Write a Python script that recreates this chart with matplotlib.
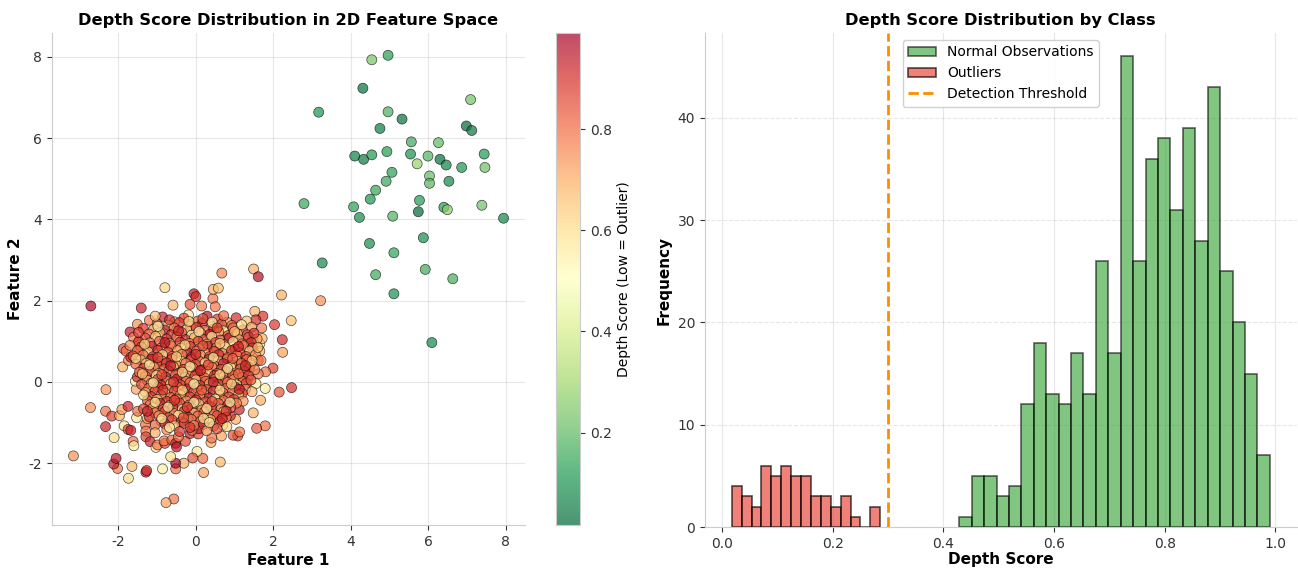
import numpy as np
import matplotlib
matplotlib.use("Agg")
import matplotlib.pyplot as plt

plt.rcParams['font.family'] = ['DejaVu Sans']
plt.rcParams['axes.unicode_minus'] = False

# --- data ---
# outliers: (feature1, feature2, depth score)
outlier_pts = [
    (4.96, 8.04, 0.131), (4.54, 7.93, 0.241), (4.31, 7.23, 0.040), (7.09, 6.95, 0.229),
    (3.17, 6.64, 0.105), (4.96, 6.65, 0.174), (5.32, 6.47, 0.033), (4.75, 6.24, 0.058),
    (6.98, 6.30, 0.024), (7.12, 6.19, 0.045), (5.56, 5.91, 0.155), (6.26, 5.89, 0.200),
    (4.10, 5.56, 0.066), (4.33, 5.48, 0.050), (4.54, 5.59, 0.115), (4.93, 5.67, 0.127),
    (5.54, 5.61, 0.099), (5.99, 5.56, 0.188), (6.30, 5.48, 0.029), (5.71, 5.37, 0.286),
    (6.46, 5.34, 0.073), (6.86, 5.28, 0.109), (7.44, 5.61, 0.120), (7.46, 5.28, 0.219),
    (5.06, 5.16, 0.134), (6.03, 5.07, 0.208), (6.03, 4.89, 0.193), (4.91, 4.94, 0.152),
    (6.53, 4.94, 0.076), (4.64, 4.72, 0.145), (4.50, 4.50, 0.112), (5.77, 4.47, 0.118),
    (5.74, 4.19, 0.0175), (6.40, 4.30, 0.123), (6.49, 4.24, 0.274), (7.38, 4.35, 0.224),
    (2.79, 4.39, 0.149), (4.07, 4.31, 0.137), (4.22, 4.05, 0.092), (5.08, 4.08, 0.182),
    (7.94, 4.03, 0.079), (4.48, 3.41, 0.088), (5.87, 3.55, 0.095), (5.11, 3.18, 0.140),
    (3.26, 2.93, 0.082), (4.64, 2.64, 0.158), (5.92, 2.77, 0.164), (6.63, 2.54, 0.169),
    (5.11, 2.17, 0.102), (6.09, 0.97, 0.085),
]

# normal observations: (feature1, feature2, depth score)
normal_pts = [
    # outer ring of the cluster
    (-2.71, 1.87, 0.97), (-1.41, 1.82, 0.92), (-0.80, 2.32, 0.62), (-0.59, 1.89, 0.68),
    (-0.19, 1.65, 0.58), (-0.05, 2.17, 0.93), (0.00, 2.10, 0.90), (-0.15, 1.91, 0.84),
    (0.15, 1.87, 0.77), (0.44, 2.05, 0.78), (0.45, 2.28, 0.70), (0.58, 2.31, 0.66),
    (0.50, 1.85, 0.78), (0.67, 2.68, 0.76), (1.49, 2.78, 0.70), (1.61, 2.59, 0.96),
    (2.21, 2.14, 0.70), (2.46, 1.51, 0.66), (2.23, 1.04, 0.91), (2.24, 0.73, 0.72),
    (1.99, 0.34, 0.86), (2.47, -0.14, 0.90), (2.15, -0.25, 0.84), (1.79, -0.16, 0.56),
    (1.67, -0.45, 0.70), (1.79, -1.08, 0.79), (1.57, -1.14, 0.83), (2.03, 1.41, 0.88),
    (1.73, 1.62, 0.89), (1.52, 1.74, 0.69), (1.55, 1.53, 0.90), (1.70, 1.33, 0.78),
    (1.49, 0.97, 0.70), (1.65, 0.94, 0.57), (1.71, 1.07, 0.69), (1.65, 0.76, 0.70),
    (1.61, 0.53, 0.85), (1.46, 0.60, 0.78), (1.80, 0.25, 0.79), (1.61, 0.20, 0.77),
    (1.55, -0.04, 0.57), (1.48, -0.76, 0.69), (1.12, -0.68, 0.92), (1.08, -1.33, 0.85),
    (0.96, -1.31, 0.84), (0.66, -1.33, 0.71), (1.13, -1.23, 0.78), (1.03, -0.92, 0.70),
    (0.89, -0.83, 0.91), (0.69, -1.06, 0.58), (0.39, -1.49, 0.70), (0.41, -1.38, 0.78),
    (0.63, -1.97, 0.68), (0.20, -2.23, 0.72), (0.18, -1.88, 0.80), (0.03, -1.71, 0.57),
    (-0.08, -1.87, 0.84), (-0.31, -2.00, 0.70), (-0.52, -2.14, 0.79), (-0.52, -2.00, 0.99),
    (-0.65, -1.84, 0.60), (-0.86, -2.14, 0.56), (-0.57, -2.88, 0.78), (-0.77, -2.97, 0.72),
    (-1.29, -2.22, 0.94), (-1.27, -2.18, 0.90), (-1.74, -2.37, 0.60), (-1.65, -2.08, 0.68),
    (-2.02, -2.13, 0.78), (-2.12, -2.02, 0.93), (-2.06, -1.88, 0.95), (-3.16, -1.82, 0.74),
    (-2.11, -1.37, 0.60), (-2.33, -1.10, 0.92), (-2.72, -0.63, 0.74), (-2.33, -0.72, 0.79),
    (-2.17, -0.84, 0.87), (-2.32, -0.19, 0.73), (-1.89, 0.37, 0.69), (-1.87, 0.82, 0.86),
    (-1.80, 0.76, 0.80), (-1.74, 0.53, 0.78), (-1.70, 1.23, 0.93), (-1.51, 1.42, 0.74),
    (-1.48, 0.98, 0.72), (-1.45, 0.78, 0.84), (-1.68, 0.61, 0.92), (-1.97, -0.83, 0.70),
    (-1.91, -0.68, 0.72), (-1.75, -0.60, 0.92), (-1.85, -1.08, 0.58), (-1.75, -1.17, 0.86),
    (-1.68, -1.19, 0.93), (-1.62, -1.46, 0.80), (-1.60, -1.57, 0.56), (-1.53, -0.88, 0.58),
    (-1.50, -0.72, 0.79), (-1.54, -0.18, 0.71), (-1.56, 0.02, 0.57), (-1.43, 0.24, 0.79),
    (-1.51, 0.12, 0.92), (-1.30, -1.05, 0.80), (-1.29, -1.21, 0.78), (-1.25, -0.90, 0.70),
    (-1.29, -1.35, 0.86), (-1.18, -1.47, 0.92), (-1.03, -1.61, 0.58), (-0.99, -1.55, 0.79),
    (-0.80, -1.51, 0.85), (-0.82, -1.45, 0.78), (-0.62, -1.43, 0.80), (-0.52, -1.51, 0.93),
    (-0.50, -1.60, 0.95), (-0.27, -1.46, 0.85), (-0.45, -1.35, 0.78), (-0.15, -1.27, 0.92),
    (0.06, -1.28, 0.86), (0.08, -1.15, 0.93), (-0.10, -1.19, 0.79), (3.22, 2.00, 0.74),
    # dense core
    (-1.20, 1.52, 0.78), (-0.86, 1.60, 0.92), (-0.55, 1.48, 0.70), (-0.31, 1.57, 0.86),
    (0.05, 1.50, 0.81), (0.29, 1.62, 0.95), (0.56, 1.55, 0.88), (0.81, 1.47, 0.74),
    (1.04, 1.58, 0.90), (1.31, 1.50, 0.66),
    (-1.00, 1.43, 0.83), (-0.71, 1.40, 0.61), (-0.42, 1.46, 0.89), (-0.14, 1.38, 0.76),
    (0.16, 1.44, 0.93), (0.41, 1.36, 0.72), (0.66, 1.42, 0.84), (0.93, 1.39, 0.79),
    (-1.36, 1.32, 0.88), (-1.09, 1.30, 0.74), (-0.80, 1.28, 0.95), (-0.56, 1.33, 0.80),
    (-0.24, 1.29, 0.68), (0.01, 1.34, 0.87), (0.23, 1.27, 0.77), (0.46, 1.31, 0.91),
    (0.71, 1.26, 0.63), (0.96, 1.33, 0.82), (1.21, 1.28, 0.89), (1.44, 1.35, 0.73),
    (-1.21, 1.18, 0.81), (-0.93, 1.21, 0.70), (-0.64, 1.16, 0.90), (-0.37, 1.22, 0.84),
    (-0.11, 1.15, 0.57), (0.13, 1.20, 0.79), (0.36, 1.17, 0.94), (0.59, 1.23, 0.75),
    (0.83, 1.14, 0.86), (1.07, 1.19, 0.69), (1.33, 1.16, 0.83),
    (-1.61, 1.10, 0.77), (-1.31, 1.08, 0.85), (-1.04, 1.12, 0.66), (-0.76, 1.06, 0.88),
    (-0.49, 1.11, 0.79), (-0.27, 1.04, 0.92), (-0.04, 1.09, 0.72), (0.19, 1.05, 0.85),
    (0.41, 1.12, 0.60), (0.63, 1.03, 0.81), (0.86, 1.08, 0.93), (1.11, 1.04, 0.76),
    (1.36, 1.10, 0.87), (1.58, 1.06, 0.71),
    (-1.48, 0.99, 0.89), (-1.19, 0.96, 0.73), (-0.94, 1.00, 0.82), (-0.67, 0.94, 0.64),
    (-0.41, 0.98, 0.91), (-0.17, 0.95, 0.78), (0.06, 1.00, 0.86), (0.29, 0.93, 0.70),
    (0.51, 0.97, 0.88), (0.73, 0.92, 0.80), (0.96, 0.99, 0.62), (1.19, 0.94, 0.84),
    (1.43, 0.97, 0.90),
    (-1.70, 0.90, 0.75), (-1.41, 0.86, 0.87), (-1.14, 0.88, 0.94), (-0.89, 0.84, 0.77),
    (-0.64, 0.89, 0.83), (-0.39, 0.83, 0.68), (-0.14, 0.87, 0.89), (0.09, 0.82, 0.74),
    (0.31, 0.88, 0.95), (0.53, 0.84, 0.79), (0.76, 0.86, 0.58), (1.01, 0.81, 0.86),
    (1.23, 0.89, 0.78), (1.46, 0.84, 0.92),
    (-1.51, 0.77, 0.80), (-1.23, 0.74, 0.66), (-0.98, 0.78, 0.91), (-0.72, 0.73, 0.85),
    (-0.47, 0.77, 0.72), (-0.22, 0.72, 0.93), (0.02, 0.76, 0.81), (0.24, 0.71, 0.69),
    (0.47, 0.75, 0.87), (0.69, 0.70, 0.76), (0.92, 0.77, 0.90), (1.14, 0.72, 0.83),
    (1.39, 0.76, 0.64),
    (-1.62, 0.64, 0.86), (-1.36, 0.66, 0.78), (-1.11, 0.62, 0.89), (-0.86, 0.67, 0.61),
    (-0.61, 0.63, 0.82), (-0.36, 0.68, 0.77), (-0.11, 0.61, 0.94), (0.12, 0.66, 0.75),
    (0.35, 0.62, 0.84), (0.59, 0.67, 0.91), (0.82, 0.60, 0.70), (1.06, 0.65, 0.80),
    (1.29, 0.63, 0.88), (1.54, 0.67, 0.74),
    (-1.42, 0.54, 0.72), (-1.15, 0.56, 0.93), (-0.88, 0.52, 0.79), (-0.62, 0.57, 0.87),
    (-0.38, 0.51, 0.66), (-0.12, 0.55, 0.84), (0.10, 0.50, 0.78), (0.34, 0.56, 0.91),
    (0.58, 0.52, 0.73), (0.81, 0.57, 0.85), (1.07, 0.51, 0.60), (1.31, 0.55, 0.82),
    (1.68, 0.53, 0.77),
    (-1.55, 0.44, 0.81), (-1.28, 0.46, 0.68), (-1.01, 0.42, 0.86), (-0.76, 0.47, 0.92),
    (-0.51, 0.41, 0.75), (-0.26, 0.46, 0.80), (-0.01, 0.43, 0.88), (0.24, 0.47, 0.64),
    (0.47, 0.40, 0.83), (0.71, 0.45, 0.94), (0.94, 0.41, 0.78), (1.17, 0.46, 0.87),
    (1.41, 0.42, 0.71),
    (-1.35, 0.34, 0.90), (-1.08, 0.36, 0.76), (-0.82, 0.32, 0.83), (-0.58, 0.37, 0.69),
    (-0.32, 0.31, 0.87), (-0.08, 0.35, 0.79), (0.18, 0.30, 0.93), (0.42, 0.36, 0.74),
    (0.65, 0.31, 0.85), (0.90, 0.37, 0.62), (1.15, 0.32, 0.81), (1.38, 0.35, 0.89),
    (1.52, 0.30, 0.76),
    (-1.46, 0.24, 0.77), (-1.20, 0.26, 0.88), (-0.95, 0.21, 0.72), (-0.70, 0.27, 0.84),
    (-0.44, 0.22, 0.95), (-0.20, 0.26, 0.78), (0.05, 0.20, 0.86), (0.30, 0.25, 0.67),
    (0.55, 0.21, 0.82), (0.79, 0.27, 0.90), (1.02, 0.22, 0.75), (1.25, 0.26, 0.83),
    (-1.30, 0.14, 0.83), (-1.02, 0.16, 0.59), (-0.78, 0.12, 0.90), (-0.52, 0.17, 0.80),
    (-0.28, 0.11, 0.73), (-0.02, 0.15, 0.87), (0.22, 0.10, 0.79), (0.48, 0.16, 0.92),
    (0.72, 0.12, 0.70), (0.95, 0.17, 0.85), (1.20, 0.11, 0.78), (1.36, 0.15, 0.88),
    (-1.25, 0.04, 0.71), (-0.99, 0.06, 0.86), (-0.75, 0.02, 0.79), (-0.49, 0.07, 0.93),
    (-0.25, 0.01, 0.82), (0.00, 0.05, 0.65), (0.25, 0.02, 0.84), (0.50, 0.07, 0.77),
    (0.75, 0.03, 0.89), (0.98, 0.06, 0.74), (1.22, 0.01, 0.81),
    (-1.40, -0.06, 0.85), (-1.15, -0.03, 0.77), (-0.90, -0.08, 0.92), (-0.65, -0.04, 0.68),
    (-0.40, -0.07, 0.86), (-0.15, -0.02, 0.80), (0.10, -0.08, 0.90), (0.35, -0.04, 0.73),
    (0.58, -0.06, 0.84), (0.82, -0.01, 0.79), (1.05, -0.07, 0.61), (1.30, -0.03, 0.87),
    (-1.22, -0.16, 0.80), (-0.98, -0.13, 0.89), (-0.72, -0.18, 0.75), (-0.48, -0.12, 0.83),
    (-0.22, -0.17, 0.94), (0.02, -0.14, 0.78), (0.28, -0.19, 0.86), (0.52, -0.12, 0.70),
    (0.78, -0.16, 0.82), (1.02, -0.13, 0.91), (1.28, -0.18, 0.76),
    (-1.30, -0.26, 0.74), (-1.05, -0.23, 0.84), (-0.80, -0.28, 0.62), (-0.55, -0.22, 0.88),
    (-0.30, -0.27, 0.79), (-0.05, -0.24, 0.85), (0.20, -0.29, 0.72), (0.45, -0.22, 0.92),
    (0.70, -0.27, 0.81), (0.95, -0.23, 0.77), (1.20, -0.28, 0.87), (1.45, -0.24, 0.69),
    (-1.15, -0.36, 0.91), (-0.90, -0.33, 0.78), (-0.65, -0.38, 0.83), (-0.40, -0.32, 0.71),
    (-0.15, -0.37, 0.87), (0.10, -0.34, 0.80), (0.35, -0.39, 0.93), (0.60, -0.33, 0.76),
    (0.85, -0.37, 0.85), (1.10, -0.32, 0.66),
    (-1.25, -0.46, 0.82), (-1.00, -0.43, 0.70), (-0.75, -0.48, 0.89), (-0.50, -0.42, 0.81),
    (-0.25, -0.47, 0.75), (0.00, -0.44, 0.92), (0.25, -0.49, 0.84), (0.50, -0.42, 0.58),
    (0.72, -0.46, 0.79), (0.98, -0.43, 0.88), (1.22, -0.47, 0.73),
    (-1.18, -0.56, 0.78), (-0.92, -0.53, 0.93), (-0.68, -0.58, 0.74), (-0.42, -0.52, 0.86),
    (-0.18, -0.57, 0.80), (0.08, -0.54, 0.69), (0.32, -0.59, 0.87), (0.58, -0.53, 0.82),
    (0.82, -0.57, 0.94), (1.05, -0.52, 0.77),
    (-1.35, -0.66, 0.86), (-1.10, -0.63, 0.72), (-0.85, -0.68, 0.84), (-0.60, -0.62, 0.91),
    (-0.35, -0.67, 0.63), (-0.10, -0.64, 0.83), (0.15, -0.69, 0.78), (0.40, -0.62, 0.89),
    (0.65, -0.67, 0.74), (0.90, -0.63, 0.85),
    (-1.05, -0.76, 0.80), (-0.80, -0.73, 0.88), (-0.55, -0.78, 0.76), (-0.30, -0.72, 0.92),
    (-0.05, -0.77, 0.71), (0.22, -0.74, 0.85), (0.48, -0.79, 0.79), (0.72, -0.73, 0.66),
    (-1.20, -0.86, 0.89), (-0.95, -0.83, 0.77), (-0.70, -0.88, 0.84), (-0.45, -0.82, 0.60),
    (-0.20, -0.87, 0.91), (0.05, -0.84, 0.82), (0.30, -0.89, 0.75), (0.55, -0.83, 0.87),
    (0.78, -0.87, 0.79),
    (-0.90, -0.96, 0.73), (-0.62, -0.93, 0.86), (-0.38, -0.98, 0.94), (-0.12, -0.92, 0.78),
    (0.12, -0.97, 0.83), (0.38, -0.93, 0.70), (0.62, -0.98, 0.88),
    (-1.05, -1.06, 0.81), (-0.80, -1.03, 0.92), (-0.55, -1.08, 0.67), (-0.30, -1.02, 0.85),
    (-0.05, -1.07, 0.77), (0.20, -1.04, 0.90), (0.45, -1.09, 0.82),
    (-0.75, -1.18, 0.76), (-0.42, -1.22, 0.88), (0.28, -1.20, 0.74), (0.55, -1.15, 0.84),
    (-1.05, -1.25, 0.70), (0.80, -1.10, 0.62),
    # points sitting between the others in the core
    (-1.05, 1.62, 0.66), (-0.68, 1.53, 0.91), (-0.18, 1.49, 0.63), (0.18, 1.56, 0.84),
    (0.42, 1.47, 0.57), (0.72, 1.63, 0.80), (1.18, 1.41, 0.59),
    (-1.48, 1.22, 0.88), (-0.98, 1.37, 0.56), (-0.45, 1.26, 0.93), (0.08, 1.24, 0.55),
    (0.55, 1.33, 0.86), (1.00, 1.24, 0.67), (1.50, 1.20, 0.90),
    (-1.32, 0.93, 0.62), (-0.80, 0.97, 0.95), (-0.28, 0.91, 0.60), (0.18, 0.89, 0.83),
    (0.62, 0.95, 0.64), (1.10, 0.87, 0.92), (1.60, 0.85, 0.66),
    (-1.55, 0.58, 0.60), (-0.98, 0.60, 0.87), (-0.50, 0.62, 0.62), (0.00, 0.68, 0.90),
    (0.45, 0.60, 0.56), (0.95, 0.58, 0.83), (1.45, 0.52, 0.63),
    (-1.20, 0.42, 0.57), (-0.65, 0.40, 0.94), (-0.15, 0.38, 0.54), (0.32, 0.42, 0.85),
    (0.82, 0.33, 0.56), (1.28, 0.40, 0.91),
    (-1.38, 0.20, 0.64), (-0.88, 0.18, 0.86), (-0.35, 0.24, 0.61), (0.12, 0.28, 0.92),
    (0.62, 0.18, 0.60), (1.10, 0.20, 0.81),
    (-1.10, -0.02, 0.56), (-0.58, 0.00, 0.89), (-0.05, -0.05, 0.55), (0.45, 0.00, 0.94),
    (0.92, -0.05, 0.62), (1.42, 0.05, 0.84),
    (-1.35, -0.32, 0.60), (-0.85, -0.20, 0.90), (-0.35, -0.20, 0.62), (0.15, -0.20, 0.83),
    (0.62, -0.20, 0.58), (1.12, -0.18, 0.93),
    (-1.05, -0.50, 0.58), (-0.55, -0.45, 0.88), (-0.05, -0.50, 0.56), (0.42, -0.48, 0.85),
    (0.88, -0.50, 0.55),
    (-1.25, -0.72, 0.92), (-0.72, -0.62, 0.57), (-0.22, -0.62, 0.87), (0.28, -0.65, 0.55),
    (0.78, -0.72, 0.90),
    (-0.88, -0.90, 0.56), (-0.32, -0.88, 0.83), (0.20, -0.90, 0.58), (0.68, -0.90, 0.92),
    (-0.68, -1.12, 0.55), (-0.15, -1.12, 0.89), (0.35, -1.00, 0.57),
]

# histogram of normal depth scores (25 bins)
normal_bin_lo = 0.4287
normal_bin_hi = 0.990
normal_counts = [1, 5, 5, 3, 4, 12, 18, 13, 12, 17, 13, 26, 17,
                 46, 26, 36, 38, 31, 39, 28, 43, 25, 20, 15, 7]
outlier_bins = 15
threshold = 0.3

out_x, out_y, out_s = map(np.array, zip(*outlier_pts))
nor_x, nor_y, nor_s = map(np.array, zip(*normal_pts))

all_x = np.concatenate([nor_x, out_x])
all_y = np.concatenate([nor_y, out_y])
all_s = np.concatenate([nor_s, out_s])

fig = plt.figure(figsize=(12.98, 5.68), dpi=100)
ax1 = fig.add_axes([0.040, 0.0757, 0.3645, 0.8663])
cax = fig.add_axes([0.4284, 0.0757, 0.0184, 0.8663])
ax2 = fig.add_axes([0.543, 0.072, 0.456, 0.870])

spine_col = '#cccccc'
for ax in (ax1, ax2):
    ax.spines['top'].set_visible(False)
    ax.spines['right'].set_visible(False)
    for s in ('left', 'bottom'):
        ax.spines[s].set_color(spine_col)
    ax.tick_params(colors='#333333', labelsize=10, length=3.5, width=0.8)
    ax.set_axisbelow(True)

# left panel: scatter coloured by depth score
sc = ax1.scatter(all_x, all_y, c=all_s, cmap='RdYlGn_r', s=52, alpha=0.7,
                 edgecolors='black', linewidths=0.5)
ax1.grid(True, color='#b0b0b0', alpha=0.3, linewidth=0.8)
ax1.set_xlabel('Feature 1', fontsize=11, fontweight='bold', labelpad=3)
ax1.set_ylabel('Feature 2', fontsize=11, fontweight='bold')
ax1.set_title('Depth Score Distribution in 2D Feature Space', fontsize=11.7,
              fontweight='bold')
cb = fig.colorbar(sc, cax=cax)
cb.set_label('Depth Score (Low = Outlier)', fontsize=10)
cb.outline.set_edgecolor(spine_col)
cb.ax.tick_params(labelsize=10, colors='#333333', length=3.5)

# right panel: histograms by class
edges = np.linspace(normal_bin_lo, normal_bin_hi, len(normal_counts) + 1)
ax2.hist(edges[:-1], bins=edges, weights=normal_counts, color='#2ca02c',
         alpha=0.6, edgecolor='black', linewidth=1.2, label='Normal Observations')
ax2.hist(out_s, bins=outlier_bins, color='#e8453a', alpha=0.68,
         edgecolor='black', linewidth=1.2, label='Outliers')
ax2.axvline(threshold, color='darkorange', linestyle='--', linewidth=2,
            label='Detection Threshold')
ax2.grid(True, axis='x', color='#b0b0b0', alpha=0.3, linewidth=0.8)
ax2.grid(True, axis='y', color='#b0b0b0', alpha=0.3, linewidth=0.8, linestyle='--')
ax2.set_xlabel('Depth Score', fontsize=11, fontweight='bold', labelpad=1)
ax2.set_ylabel('Frequency', fontsize=11, fontweight='bold')
ax2.set_title('Depth Score Distribution by Class', fontsize=11.7, fontweight='bold')
ax2.legend(loc='upper center', fontsize=10, framealpha=0.9)

fig.savefig('out.png', dpi=100)
